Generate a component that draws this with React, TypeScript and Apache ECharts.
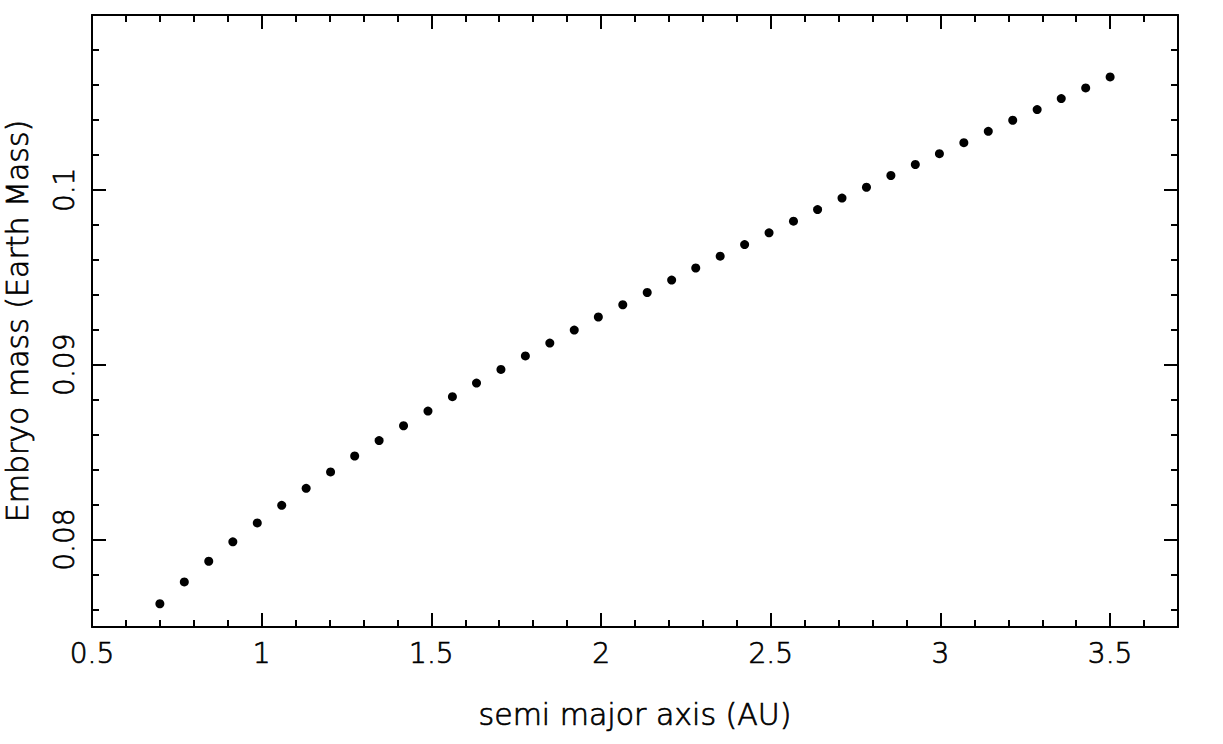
import React, { useEffect, useRef } from "react";
import * as echarts from "echarts";

// semi major axis (AU)
const semiMajorAxis = [
  0.7, 0.772, 0.844, 0.915, 0.987, 1.059, 1.131, 1.203, 1.274, 1.346,
  1.418, 1.49, 1.562, 1.633, 1.705, 1.777, 1.849, 1.921, 1.992, 2.064,
  2.136, 2.208, 2.279, 2.351, 2.423, 2.495, 2.567, 2.638, 2.71, 2.782,
  2.854, 2.926, 2.997, 3.069, 3.141, 3.213, 3.285, 3.356, 3.428, 3.5,
];

// Embryo mass (Earth Mass)
const embryoMass = [
  0.07633, 0.07758, 0.07876, 0.07987, 0.08095, 0.08196, 0.08293, 0.08387, 0.08478, 0.08566,
  0.08651, 0.08735, 0.08817, 0.08895, 0.08973, 0.0905, 0.09124, 0.09198, 0.09273, 0.09343,
  0.09413, 0.09484, 0.09553, 0.09621, 0.09687, 0.09754, 0.09821, 0.09887, 0.09953, 0.10015,
  0.10082, 0.10145, 0.10207, 0.1027, 0.10335, 0.10398, 0.10459, 0.10522, 0.10583, 0.10646,
];

const xMajorTicks = [0.5, 1, 1.5, 2, 2.5, 3, 3.5];
const xMinorTicks = [
  0.6, 0.7, 0.8, 0.9, 1.1, 1.2, 1.3, 1.4, 1.6, 1.7, 1.8, 1.9, 2.1, 2.2, 2.3, 2.4,
  2.6, 2.7, 2.8, 2.9, 3.1, 3.2, 3.3, 3.4, 3.6,
];
const yMajorTicks = [0.08, 0.09, 0.1];
const yMinorTicks = [
  0.076, 0.078, 0.082, 0.084, 0.086, 0.088, 0.092, 0.094, 0.096, 0.098,
  0.102, 0.104, 0.106, 0.108,
];

const X_MIN = 0.5;
const X_MAX = 3.7;
const Y_MIN = 0.075;
const Y_MAX = 0.11;

const FONT = "DejaVu Sans";
const WEIGHT = 200;
const INK = "#000";
const TEXT_STROKE = { textBorderColor: INK, textBorderWidth: 0.7 };

function makeAxis(kind: "x" | "y", position: string, ticks: number[], len: number, opts: any = {}) {
  const isX = kind === "x";
  return {
    type: "value",
    position,
    min: isX ? X_MIN : Y_MIN,
    max: isX ? X_MAX : Y_MAX,
    axisLine: { show: !!opts.line, onZero: false, lineStyle: { color: INK, width: 2 } },
    axisTick: {
      show: true,
      inside: true,
      length: len,
      customValues: ticks,
      lineStyle: { color: INK, width: 2 },
    },
    axisLabel: opts.labels
      ? {
          show: true,
          customValues: ticks,
          color: INK,
          fontFamily: FONT,
          fontWeight: WEIGHT,
          fontSize: 28,
          ...TEXT_STROKE,
          margin: opts.margin,
          rotate: isX ? 0 : 90,
          formatter: (v: number) => String(parseFloat(v.toFixed(4))),
        }
      : { show: false },
    splitLine: { show: false },
    ...(opts.name
      ? {
          name: opts.name,
          nameLocation: "middle",
          nameGap: opts.nameGap,
          nameTextStyle: {
            color: INK,
            fontFamily: FONT,
            fontWeight: WEIGHT,
            fontSize: 30,
            ...TEXT_STROKE,
          },
        }
      : {}),
  };
}

export default function App() {
  const ref = useRef<HTMLDivElement>(null);
  useEffect(() => {
    if (!ref.current) return;
    const chart = echarts.init(ref.current, undefined, { renderer: "svg" });
    const data = semiMajorAxis.map((x, i) => [x, embryoMass[i]]);
    chart.setOption({
      animation: false,
      backgroundColor: "#fff",
      grid: { left: 92, right: 45, top: 15, bottom: 117, containLabel: false, outerBoundsMode: "none" },
      xAxis: [
        makeAxis("x", "bottom", xMajorTicks, 14, {
          line: true,
          labels: true,
          margin: 12,
          name: "semi major axis (AU)",
          nameGap: 72,
        }),
        makeAxis("x", "bottom", xMinorTicks, 7),
        makeAxis("x", "top", xMajorTicks, 14, { line: true }),
        makeAxis("x", "top", xMinorTicks, 7),
      ],
      yAxis: [
        makeAxis("y", "left", yMajorTicks, 14, {
          line: true,
          labels: true,
          margin: 14,
          name: "Embryo mass (Earth Mass)",
          nameGap: 60,
        }),
        makeAxis("y", "left", yMinorTicks, 7),
        makeAxis("y", "right", yMajorTicks, 14, { line: true }),
        makeAxis("y", "right", yMinorTicks, 7),
      ],
      series: [
        {
          type: "scatter",
          xAxisIndex: 0,
          yAxisIndex: 0,
          data,
          symbol: "circle",
          symbolSize: 9,
          itemStyle: { color: INK, opacity: 1 },
          silent: true,
        },
      ],
    });
    return () => chart.dispose();
  }, []);
  return (
    <div
      ref={ref}
      style={{ position: "absolute", left: 0, top: 0, width: 1223, height: 744 }}
    />
  );
}
